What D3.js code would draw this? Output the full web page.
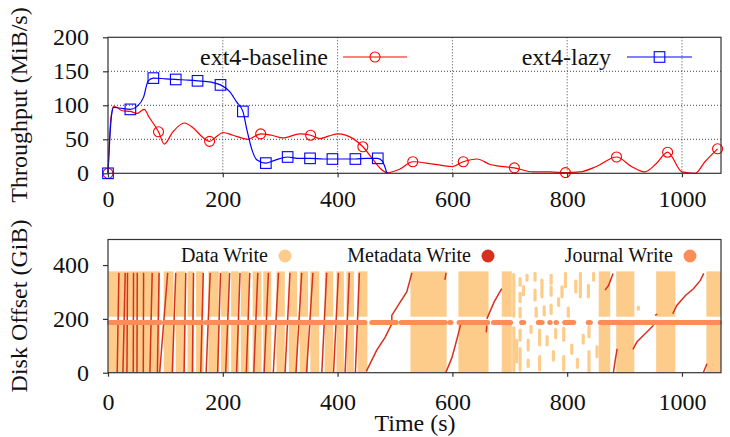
<!DOCTYPE html>
<html>
<head>
<meta charset="utf-8">
<script src="https://cdn.jsdelivr.net/npm/d3@7"></script>
<style>
  body { margin: 0; background: #fff; }
  svg { display: block; font-family: "Liberation Serif", "DejaVu Serif", serif; }
</style>
</head>
<body>
<svg id="chart" width="730" height="437"></svg>
<script>
// ---------- top panel: throughput ----------
const baselineTime = [0, 5, 10, 25, 39, 50, 63, 72, 88, 98, 113, 133, 148, 165, 177, 186, 201, 218, 244, 266, 285, 305, 334, 353, 369, 385, 401, 427, 444, 462, 476, 486, 508, 531, 564, 599, 619, 643, 666, 678, 708, 741, 770, 797, 822, 851, 886, 912, 935, 955, 975, 1000, 1023, 1040, 1062];
const baselineValue = [0, 80, 99, 92, 91, 88, 94, 82, 61, 43, 61, 74, 67, 53, 47, 52, 60, 56, 50, 58, 56, 52, 58, 56, 51, 55, 58, 51, 39, 20, 6, 1, 6, 17, 14, 10, 17, 21, 13, 11, 8, 2, 2, 1, 2, 10, 24, 10, 2, 14, 31, 2, 0, 17, 36];
const baselineMarks = [0, 88, 177, 266, 353, 444, 531, 619, 708, 797, 886, 975, 1062];

const lazyTime = [0, 6, 10, 20, 39, 50, 62, 70, 79, 100, 118, 140, 156, 180, 196, 212, 224, 235, 242, 251, 259, 275, 290, 313, 330, 352, 375, 391, 410, 431, 450, 470, 478, 486];
const lazyValue = [0, 84, 97, 96, 94, 98, 112, 136, 140, 139, 138, 137, 136, 134, 130, 120, 105, 91, 64, 34, 20, 15, 19, 24, 22, 22, 21, 21, 21, 21, 22, 22, 18, 0];
const lazyMarks = [0, 39, 79, 118, 156, 196, 235, 275, 313, 352, 391, 431, 470];

const throughputTicks = [0, 50, 100, 150, 200];
const timeTicks = [0, 200, 400, 600, 800, 1000];
const offsetTicks = [0, 200, 400];

// ---------- bottom panel: disk offset ----------
// data writes: time spans (s) and the offset bands (GiB) they fill
const dataWriteSpans = [[0, 90.5], [97, 114], [118, 134.5], [138.5, 149.5], [153.5, 166.5], [175, 193], [197, 210.5], [214.5, 228], [231.5, 245.5], [252, 267.5], [270.5, 284.5], [293.5, 308], [315, 329.5], [334, 348.5], [352.5, 368], [377.5, 392.5], [398, 411], [415.5, 428.5], [435, 452], [527, 590], [610.5, 663], [686, 703.5], [855, 875], [885.5, 917], [955, 988.5], [1042.5, 1068]];
const dataWriteBands = [[0, 187], [208, 371]];
// scattered data writes: [time, low offset, high offset]
const dataWriteDots = [[707, 8, 168], [707, 210, 365], [712, 40, 120], [718, 325, 350], [718, 264, 295], [718, 208, 239], [718, 121, 158], [718, 10, 90], [724, 290, 320], [730, 344, 362], [732, 84, 121], [732, 23, 47], [737, 150, 172], [744, 344, 369], [744, 270, 307], [746, 210, 240], [752, 103, 158], [752, 10, 60], [756, 282, 344], [760, 215, 245], [765, 103, 134], [772, 332, 362], [772, 288, 319], [772, 220, 251], [776, 47, 78], [780, 130, 160], [785, 250, 275], [791, 282, 319], [794, 121, 165], [794, 10, 60], [797, 319, 369], [802, 210, 240], [808, 72, 103], [815, 300, 340], [818, 20, 50], [823, 282, 369], [828, 110, 140], [837, 282, 325], [838, 134, 171], [838, 4, 78], [846, 344, 369], [852, 60, 96], [924, 236, 244]];

// metadata writes: polylines of [time, offset]
const metadataWrites = [
  [[16, 0], [19, 371]], [[26, 0], [30, 371]], [[33, 0], [34, 371]], [[44, 0], [44.5, 371]],
  [[50.5, 0], [51, 371]], [[61.5, 0], [62, 371]], [[73, 0], [77, 371]], [[86, 0], [89, 371]],
  [[90, 0], [104, 371]], [[112, 0], [118, 371]], [[132.5, 0], [135.5, 371]], [[147, 0], [149, 371]],
  [[161.5, 0], [166, 371]], [[171, 0], [178, 371]], [[191, 0], [196, 371]], [[205, 0], [212, 371]],
  [[224, 0], [230, 371]], [[241, 0], [247, 371]], [[254, 0], [261, 371]], [[272, 0], [279.5, 371]],
  [[288, 0], [297, 371]], [[308.5, 0], [317, 371]], [[327.5, 0], [337.5, 371]], [[346, 0], [357, 371]],
  [[372.5, 0], [381, 371]], [[393, 0], [401.5, 371]], [[413, 0], [420.5, 371]], [[431, 0], [438, 371]],
  [[450, 5], [468, 83], [483, 132], [494.5, 182], [494.5, 213], [509, 262], [520.5, 300], [529.5, 371]],
  [[587, 345], [589, 371]],
  [[588.5, 0], [599, 55], [605, 101], [612, 158], [615, 185]],
  [[659, 150], [660, 175]],
  [[660, 200], [673, 264], [686, 312]],
  [[866, 307], [872, 324], [880, 369]],
  [[880.5, 0], [884, 50], [887, 89]],
  [[914.5, 87], [921.5, 114], [930, 133], [942, 158], [950.5, 176]],
  [[953, 213], [957, 218]],
  [[984, 219], [991, 250], [1006, 287], [1020, 312], [1032, 343], [1038, 369]],
  [[1037.5, 2], [1043.5, 33]]
];

// journal writes sit on one offset; runs of time where they appear
const journalOffset = 187;
const journalSpans = [[0, 94], [96, 166], [168, 450], [457, 505], [508, 590], [595, 598], [609, 664], [669, 704], [718, 727], [747, 759], [767, 773], [778, 784], [793, 814], [834, 843], [855, 1068]];

// ---------- chart ----------
const C = { data: '#fdcc8a', meta: '#d7301f', journal: '#fc8d59', frame: '#333' };

const svg = d3.select('#chart');

const x = d3.scaleLinear().domain([0, 1068]).range([108, 721]);
const yTop = d3.scaleLinear().domain([0, 200]).range([173.3, 37.3]);
const yBot = d3.scaleLinear().domain([0, 495]).range([372.7, 239.5]);

// Top panel grid (dotted)
const grid = svg.append('g').attr('stroke', '#444').attr('stroke-width', 1).attr('stroke-dasharray', '1,2');
grid.selectAll('.gy').data(throughputTicks.slice(1, -1)).join('line')
    .attr('x1', x.range()[0]).attr('x2', x.range()[1])
    .attr('y1', (d) => yTop(d)).attr('y2', (d) => yTop(d));
grid.selectAll('.gx').data(timeTicks.slice(1)).join('line')
    .attr('x1', (d) => x(d)).attr('x2', (d) => x(d))
    .attr('y1', yTop.range()[0]).attr('y2', yTop.range()[1]);

// Lines
const line = d3.line().curve(d3.curveMonotoneX);
const series = [
    { t: baselineTime, v: baselineValue, marks: baselineMarks, color: '#f00', shape: 'circle' },
    { t: lazyTime, v: lazyValue, marks: lazyMarks, color: '#00f', shape: 'square' },
];
series.forEach((s) => {
    const pts = s.t.map((t, i) => [x(t), yTop(s.v[i])]);
    svg.append('path')
        .attr('d', line(pts))
        .attr('fill', 'none')
        .attr('stroke', s.color)
        .attr('stroke-width', 1.2);
});

const drawMark = (g, shape, color, cx, cy) => {
    if (shape === 'circle') {
        g.append('circle').attr('cx', cx).attr('cy', cy).attr('r', 5)
            .attr('fill', 'none').attr('stroke', color).attr('stroke-width', 1.1);
    } else {
        g.append('rect').attr('x', cx - 5.3).attr('y', cy - 5.3).attr('width', 10.6).attr('height', 10.6)
            .attr('fill', 'none').attr('stroke', color).attr('stroke-width', 1.1);
    }
};
const markG = svg.append('g');
series.forEach((s) => {
    s.marks.forEach((m) => {
        const i = s.t.indexOf(m);
        drawMark(markG, s.shape, s.color, x(m), yTop(s.v[i]));
    });
});

// Bottom panel: data writes
const dataG = svg.append('g').attr('fill', C.data);
dataWriteSpans.forEach(([t0, t1]) => {
    dataWriteBands.forEach(([o0, o1]) => {
        dataG.append('rect')
            .attr('x', x(t0)).attr('width', x(t1) - x(t0))
            .attr('y', yBot(o1) - 1.5).attr('height', yBot(o0) - yBot(o1) + 1.5);
    });
});
svg.append('g').attr('stroke', C.data).attr('stroke-width', 3.2).attr('stroke-linecap', 'round')
    .selectAll('line').data(dataWriteDots).join('line')
    .attr('x1', (d) => x(d[0])).attr('x2', (d) => x(d[0]))
    .attr('y1', (d) => yBot(d[1])).attr('y2', (d) => yBot(d[2]));

// metadata writes
const metaLine = d3.line().x((d) => x(d[0])).y((d) => yBot(d[1]));
svg.append('g').selectAll('path').data(metadataWrites).join('path')
    .attr('d', metaLine)
    .attr('fill', 'none')
    .attr('stroke', C.meta)
    .attr('stroke-width', 1.5);

// journal writes
svg.append('g').attr('stroke', C.journal).attr('stroke-width', 5).attr('stroke-linecap', 'round')
    .selectAll('line').data(journalSpans).join('line')
    .attr('x1', (d) => x(d[0]) + 1.5).attr('x2', (d) => x(d[1]) - 1.5)
    .attr('y1', yBot(journalOffset)).attr('y2', yBot(journalOffset));

// Frames and axes
[yTop, yBot].forEach((yy) => {
    svg.append('rect')
        .attr('x', x.range()[0]).attr('y', yy.range()[1])
        .attr('width', x.range()[1] - x.range()[0]).attr('height', yy.range()[0] - yy.range()[1])
        .attr('fill', 'none').attr('stroke', C.frame).attr('stroke-width', 1.2);
});

const styleAxis = (g) => {
    g.attr('font-family', null).attr('font-size', null);
    g.select('.domain').remove();
    g.selectAll('line').attr('stroke', C.frame).attr('stroke-width', 1.2);
    g.selectAll('text').attr('font-size', 24).attr('fill', '#111');
};
const fmt = d3.format('d');

svg.append('g').attr('transform', `translate(0,${yTop.range()[0]})`)
    .call(d3.axisBottom(x).tickValues(timeTicks).tickFormat(fmt).tickSize(4).tickPadding(13)).call(styleAxis);
svg.append('g').attr('transform', `translate(0,${yBot.range()[0]})`)
    .call(d3.axisBottom(x).tickValues(timeTicks).tickFormat(fmt).tickSize(4).tickPadding(16)).call(styleAxis);
svg.append('g').attr('transform', `translate(${x.range()[0]},0)`)
    .call(d3.axisLeft(yTop).tickValues(throughputTicks).tickFormat(fmt).tickSize(5).tickPadding(14)).call(styleAxis);
svg.append('g').attr('transform', `translate(${x.range()[0]},0)`)
    .call(d3.axisLeft(yBot).tickValues(offsetTicks).tickFormat(fmt).tickSize(5).tickPadding(14)).call(styleAxis);

// Axis titles
const title = (txt, tx, ty, rot) => svg.append('text')
    .attr('transform', `translate(${tx},${ty}) rotate(${rot})`)
    .attr('text-anchor', 'middle').attr('font-size', 24).attr('fill', '#111').text(txt);
title('Throughput (MiB/s)', 27, 105, -90);
title('Disk Offset (GiB)', 27, 306, -90);
title('Time (s)', 415, 431, 0);

// Top legend
const legTop = [
    { label: 'ext4-baseline', end: 328, x0: 343, x1: 407, color: '#f00', shape: 'circle' },
    { label: 'ext4-lazy', end: 611, x0: 627, x1: 692, color: '#00f', shape: 'square' },
];
legTop.forEach((l) => {
    svg.append('text').attr('x', l.end).attr('y', 65).attr('text-anchor', 'end')
        .attr('font-size', 24).attr('fill', '#111').text(l.label);
    svg.append('line').attr('x1', l.x0).attr('x2', l.x1).attr('y1', 57).attr('y2', 57)
        .attr('stroke', l.color).attr('stroke-width', 1.2);
    drawMark(svg, l.shape, l.color, (l.x0 + l.x1) / 2, 57);
});

// Bottom legend
const legBot = [
    { label: 'Data Write', end: 268, cx: 285, color: C.data },
    { label: 'Metadata Write', end: 471, cx: 488, color: C.meta },
    { label: 'Journal Write', end: 673, cx: 690, color: C.journal },
];
legBot.forEach((l) => {
    svg.append('text').attr('x', l.end).attr('y', 262).attr('text-anchor', 'end')
        .attr('font-size', 20).attr('fill', '#111').text(l.label);
    svg.append('circle').attr('cx', l.cx).attr('cy', 256).attr('r', 6.5).attr('fill', l.color);
});
</script>
</body>
</html>
